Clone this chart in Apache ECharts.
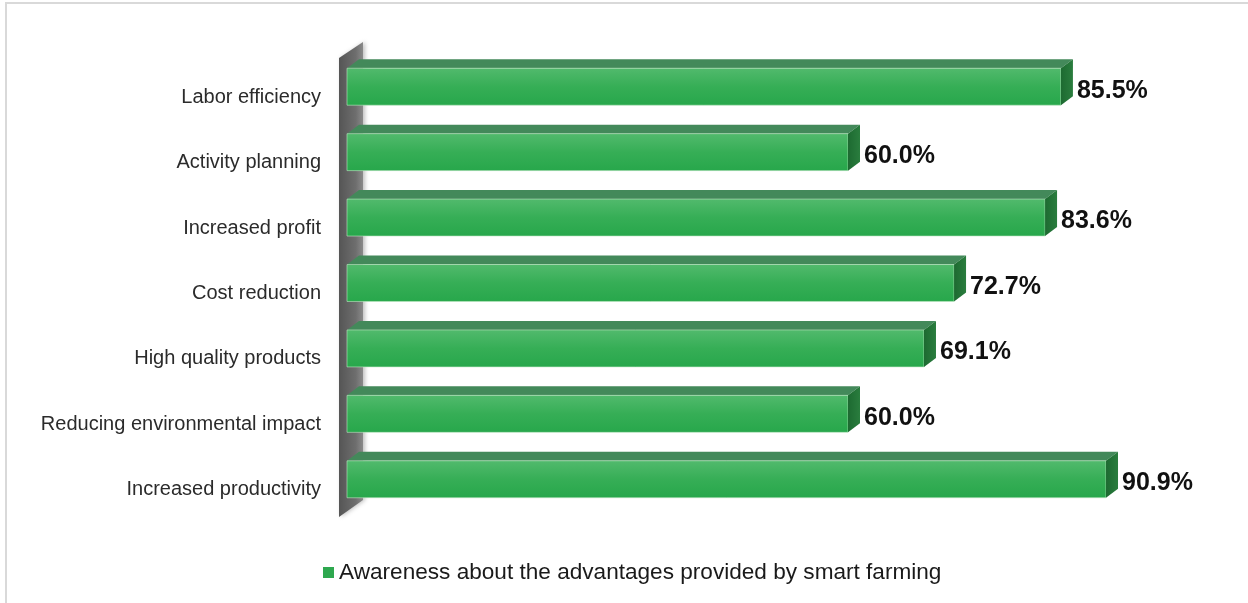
<!DOCTYPE html>
<html>
<head>
<meta charset="utf-8">
<script src="https://cdn.jsdelivr.net/npm/echarts@6/dist/echarts.min.js"></script>
<style>
html,body{margin:0;padding:0;background:#fff;}
#chart{width:1248px;height:603px;}
</style>
</head>
<body>
<div id="chart"></div>
<script>
const categories = ['Labor efficiency', 'Activity planning', 'Increased profit', 'Cost reduction', 'High quality products', 'Reducing environmental impact', 'Increased productivity'];
const values = [85.5, 60.0, 83.6, 72.7, 69.1, 60.0, 90.9];
const seriesName = 'Awareness about the advantages provided by smart farming';
const headerText = 'EUROPEAN UNION';

const FONT = '"Liberation Sans", Arial, sans-serif';
const DX = 12, DY = -9;

const chart = echarts.init(document.getElementById('chart'), null, {renderer: 'canvas'});

function renderWall(params, api) {
  const cs = params.coordSys;
  const x0 = cs.x, top = cs.y, bottom = cs.y + cs.height;
  return {
    type: 'polygon',
    z2: 0,
    shape: {points: [[x0 - 8, top + 4], [x0 + 16, top - 12], [x0 + 16, bottom - 12], [x0 - 8, bottom + 5]]},
    style: {
      fill: new echarts.graphic.LinearGradient(0, 0, 1, 0, [
        {offset: 0, color: '#555555'},
        {offset: 0.7, color: '#6e6e6e'},
        {offset: 1, color: '#8a8a8a'}
      ]),
      shadowBlur: 4, shadowColor: 'rgba(0,0,0,0.25)', shadowOffsetX: 2
    }
  };
}

function renderBar(params, api) {
  const idx = api.value(1);
  const v = api.value(0);
  const start = api.coord([0, idx]);
  const end = api.coord([v, idx]);
  const band = api.size([0, 1])[1];
  const h = band * 0.565;
  const y1 = start[1] - h / 2, y2 = start[1] + h / 2;
  const sx = start[0], ex = end[0];
  return {
    type: 'group',
    children: [
      {
        type: 'polygon',
        shape: {points: [[sx, y1], [ex, y1], [ex + DX, y1 + DY], [sx + DX, y1 + DY]]},
        style: {fill: '#43895a'}
      },
      {
        type: 'rect',
        shape: {x: sx, y: y1, width: ex - sx, height: h},
        style: {
          fill: new echarts.graphic.LinearGradient(0, 0, 0, 1, [
            {offset: 0, color: '#52ba6d'},
            {offset: 0.5, color: '#36ae56'},
            {offset: 1, color: '#27a74b'}
          ]),
          stroke: 'rgba(190,230,195,0.6)', lineWidth: 1
        }
      },
      {
        type: 'polygon',
        shape: {points: [[ex, y1], [ex + DX, y1 + DY], [ex + DX, y2 + DY], [ex, y2]]},
        style: {
          fill: new echarts.graphic.LinearGradient(0, 0, 1, 0, [
            {offset: 0, color: '#1d6a31'},
            {offset: 1, color: '#2a7d3e'}
          ])
        }
      },
      {
        type: 'text',
        x: ex + 16,
        y: start[1] + 4,
        style: {
          text: v.toFixed(1) + '%',
          fontSize: 25,
          fontWeight: 'bold',
          fontFamily: FONT,
          fill: '#111111',
          align: 'left',
          verticalAlign: 'middle'
        }
      }
    ]
  };
}

chart.setOption({
  animation: false,
  backgroundColor: '#ffffff',
  title: {
    text: headerText,
    left: 8,
    top: -11,
    padding: 0,
    textStyle: {fontSize: 13, fontWeight: 'normal', color: '#3a5fcd', fontFamily: FONT}
  },
  graphic: [{
    type: 'rect',
    z: -10,
    shape: {x: 6, y: 3, width: 1300, height: 700},
    style: {fill: 'none', stroke: '#d9d9d9', lineWidth: 2}
  }],
  grid: {left: 347, right: 66, top: 54, height: 458, containLabel: false},
  xAxis: {type: 'value', min: 0, max: 100, show: false},
  yAxis: {
    type: 'category',
    data: categories,
    inverse: true,
    axisLine: {show: false},
    axisTick: {show: false},
    splitLine: {show: false},
    axisLabel: {
      margin: 26,
      fontSize: 20,
      fontFamily: FONT,
      color: '#2b2b2b',
      verticalAlign: 'top',
      lineHeight: 21
    }
  },
  legend: {
    data: [{name: seriesName, icon: 'rect'}],
    left: 318,
    top: 556,
    itemWidth: 11,
    itemHeight: 11,
    textStyle: {fontSize: 22.6, fontFamily: FONT, color: '#1a1a1a'}
  },
  series: [
    {
      type: 'custom',
      name: 'wall',
      renderItem: renderWall,
      data: [[0, 0]],
      encode: {x: 0, y: 1},
      silent: true,
      z: 1
    },
    {
      type: 'custom',
      name: seriesName,
      renderItem: renderBar,
      itemStyle: {color: '#2ea84f'},
      data: values.map((v, i) => [v, i]),
      encode: {x: 0, y: 1},
      z: 2
    }
  ]
});
</script>
</body>
</html>
